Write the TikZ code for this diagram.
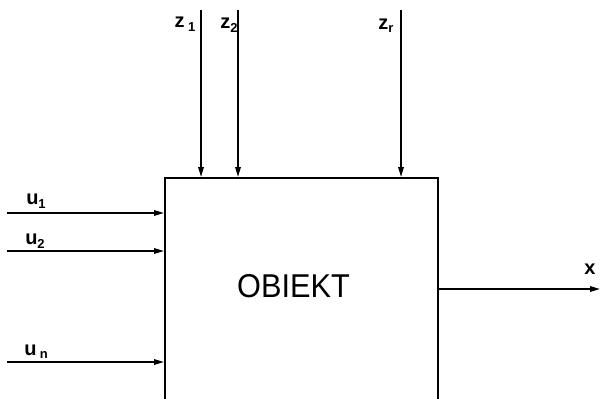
\documentclass[tikz,border=0pt]{standalone}
\usepackage{fontspec}
\setmainfont{Liberation Sans}
\usetikzlibrary{arrows.meta}
\begin{document}
\begin{tikzpicture}[x=1pt,y=-1pt,
  arr/.style={line width=1.7pt,-{Triangle[length=10pt,width=5.5pt]}},
  sig/.style={inner sep=0pt,font=\fontsize{20}{20}\selectfont\bfseries}]
\useasboundingbox (0,0) rectangle (601,398);
\clip (0,0) rectangle (601,398);
\fill[white] (0,0) rectangle (601,398);
\node[draw,line width=1.8pt,minimum width=273pt,minimum height=260pt,anchor=north west,inner sep=0pt] (box) at (164,177) {};
\node[inner sep=0pt,font=\fontsize{33}{33}\selectfont,xscale=0.93] (lbl) at (293.5,286) {OBIEKT};
% inputs
\coordinate (u1s) at (7,213);
\coordinate (u2s) at (7,251);
\coordinate (uns) at (7,362);
\draw[arr] (u1s) -- (box.west |- u1s);
\draw[arr] (u2s) -- (box.west |- u2s);
\draw[arr] (uns) -- (box.west |- uns);
\node[sig] (lu1) at (36,201) {u\raisebox{-4pt}{\fontsize{13}{13}\selectfont 1}};
\node[sig] (lu2) at (35,241) {u\raisebox{-4pt}{\fontsize{13}{13}\selectfont 2}};
\node[sig] (lun) at (36,352) {u\,\raisebox{-3pt}{\fontsize{13}{13}\selectfont n}};
% disturbances
\coordinate (z1s) at (201,10);
\coordinate (z2s) at (238,10);
\coordinate (zrs) at (401,10);
\draw[arr] (z1s) -- (z1s |- box.north);
\draw[arr] (z2s) -- (z2s |- box.north);
\draw[arr] (zrs) -- (zrs |- box.north);
\node[sig] (lz1) at (185,24) {z\,\raisebox{-4pt}{\fontsize{13}{13}\selectfont 1}};
\node[sig] (lz2) at (229,25) {z\raisebox{-4pt}{\fontsize{13}{13}\selectfont 2}};
\node[sig] (lzr) at (386,26) {z\raisebox{-3pt}{\fontsize{13}{13}\selectfont r}};
% output
\coordinate (xe) at (600,289);
\draw[arr] (box.east |- xe) -- (xe);
\node[sig] (lx) at (590,269) {x};
\end{tikzpicture}
\end{document}
